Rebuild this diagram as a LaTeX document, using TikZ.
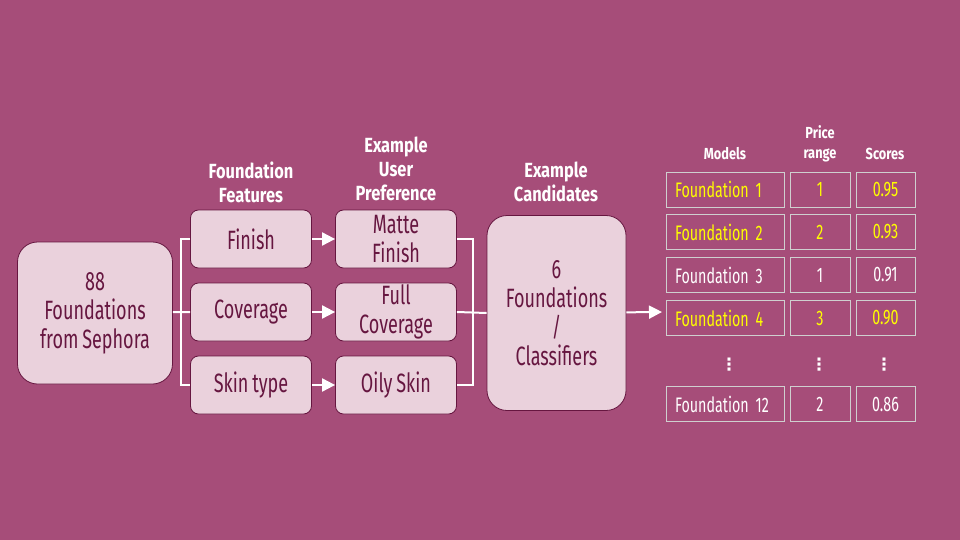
\documentclass[tikz,border=0pt]{standalone}
\usepackage{fontspec}
\setmainfont{Fira Sans}[FakeStretch=0.68, WordSpace=0.8, BoldFeatures={FakeStretch=0.8}]
\newfontfamily\dotsfont{DejaVu Sans}
\usetikzlibrary{arrows.meta}
\definecolor{plum}{HTML}{A64D79}
\definecolor{blush}{HTML}{EAD1DC}
\definecolor{wine}{HTML}{661640}
\definecolor{gold}{HTML}{FFFF00}
\definecolor{rule}{HTML}{CFCFCF}

\begin{document}
\begin{tikzpicture}[x=1pt, y=-1pt,
		box/.style={draw=wine, fill=blush, text=wine, rounded corners=8pt, line width=0.8pt,
			align=center, inner sep=0pt, minimum width=121pt, minimum height=58pt,
			font=\fontsize{26.5}{29}\selectfont},
		bigbox/.style={box, rounded corners=20pt},
		head/.style={text=white, align=center, font=\bfseries\fontsize{20.5}{24}\selectfont},
		thead/.style={text=white, align=center, font=\bfseries\fontsize{16}{20}\selectfont},
		cell/.style={draw=rule, line width=0.6pt, minimum height=35pt, inner sep=0pt,
			font=\fontsize{21}{24}\selectfont},
		namecell/.style={cell, minimum width=118pt, text width=100pt, align=left},
		pricecell/.style={cell, minimum width=60pt},
		scorecell/.style={cell, minimum width=59pt},
		vdots/.style={text=white, font=\dotsfont\bfseries\fontsize{17}{17}\selectfont},
		wire/.style={draw=white, line width=2pt},
		arr/.style={wire, -{Triangle[length=13pt,width=13pt]}}
	]
		\fill[plum] (0, 0) rectangle (960, 540);
		\useasboundingbox (0, 0) rectangle (960, 540);
		
		% headings
		\node[head] (hfeat) at (251, 182) {Foundation\\Features};
		\node[head] (hpref) at (396, 169) {Example\\User\\Preference};
		\node[head] (hcand) at (556, 182) {Example\\Candidates};
		
		% boxes
		\node[bigbox, minimum width=155pt, minimum height=142pt] (src) at (95, 313) {88\\Foundations\\from Sephora};
		\node[box] (finish) at (251, 239) {Finish};
		\node[box] (cov) at (251, 312) {Coverage};
		\node[box] (skin) at (251, 385) {Skin type};
		\node[box] (matte) at (396, 239) {Matte\\Finish};
		\node[box] (full) at (396, 312) {Full\\Coverage};
		\node[box] (oily) at (396, 385) {Oily Skin};
		\node[bigbox, minimum width=139pt, minimum height=195pt] (cand) at (556.5, 313) {6\\Foundations\\/\\Classifiers};
		
		% connectors
		\coordinate (lsplit) at (181, 312);
		\coordinate (rjoin) at (473, 312);
		\coordinate (tab) at (662, 312);
		\draw[wire] (src) -- (lsplit) -- (cov.west);
		\draw[wire] (finish.west) -| (lsplit) |- (skin.west);
		\draw[arr] (finish) -- (matte);
		\draw[arr] (cov) -- (full);
		\draw[arr] (skin) -- (oily);
		\draw[wire] (matte.east) -| (rjoin) |- (oily.east);
		\draw[wire] (full.east) -- (cand.west);
		\draw[arr] (cand) -- (tab);
		
		% table
		\node[thead] (tmod) at (725, 154) {Models};
		\node[thead] (tprice) at (820, 144) {Price\\range};
		\node[thead] (tscore) at (885, 154) {Scores};
		
		\node[namecell, text=gold] (m1) at (725, 189.5) {Foundation 1};
		\node[pricecell, text=gold] (p1) at (820, 189.5) {1};
		\node[scorecell, text=gold] (s1) at (885.5, 189.5) {0.95};
		
		\node[namecell, text=gold] (m2) at (725, 232) {Foundation 2};
		\node[pricecell, text=gold] (p2) at (820, 232) {2};
		\node[scorecell, text=gold] (s2) at (885.5, 232) {0.93};
		
		\node[namecell, text=white] (m3) at (725, 275) {Foundation 3};
		\node[pricecell, text=white] (p3) at (820, 275) {1};
		\node[scorecell, text=white] (s3) at (885.5, 275) {0.91};
		
		\node[namecell, text=gold] (m4) at (725, 318) {Foundation 4};
		\node[pricecell, text=gold] (p4) at (820, 318) {3};
		\node[scorecell, text=gold] (s4) at (885.5, 318) {0.90};
		
		\node[vdots] (d1) at (729, 365) {⋮};
		\node[vdots] (d2) at (819, 365) {⋮};
		\node[vdots] (d3) at (884, 365) {⋮};
		
		\node[namecell, text=white] (m12) at (725, 404) {Foundation 12};
		\node[pricecell, text=white] (p12) at (820, 404) {2};
		\node[scorecell, text=white] (s12) at (885.5, 404) {0.86};
	\end{tikzpicture}
\end{document}
